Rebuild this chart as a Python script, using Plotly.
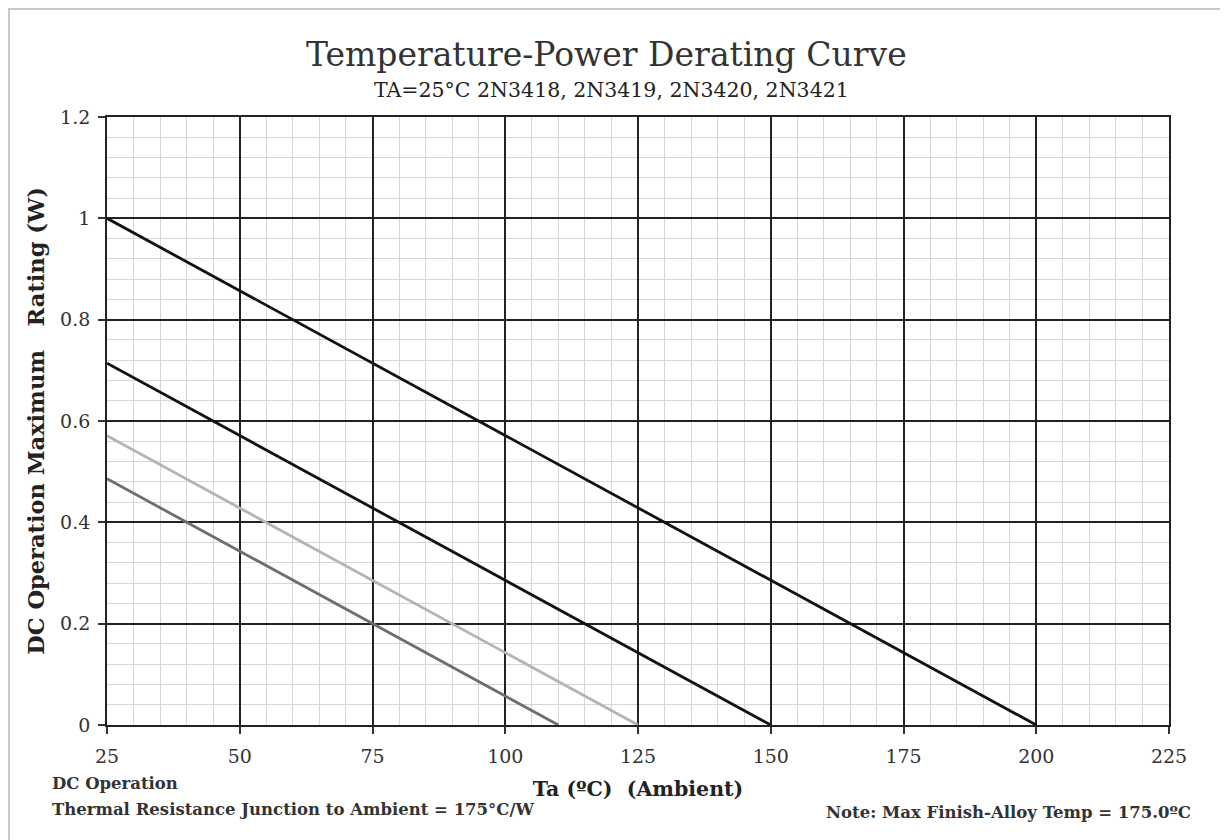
import plotly.graph_objects as go

# Data: ambient temperature (°C) vs max DC power rating (W)
x_ta = [25, 200]
y_p1 = [1.0, 0.0]
x_2 = [25, 150]
y_2 = [0.714, 0.0]
x_3 = [25, 125]
y_3 = [0.571, 0.0]
x_4 = [25, 110]
y_4 = [0.486, 0.0]

x_ticks = [25, 50, 75, 100, 125, 150, 175, 200, 225]
y_ticks = [0, 0.2, 0.4, 0.6, 0.8, 1.0, 1.2]
y_tick_text = ["0", "0.2", "0.4", "0.6", "0.8", "1", "1.2"]

FONT = "DejaVu Serif"

fig = go.Figure()
series = [
    (x_ta, y_p1, "#111111"),
    (x_2, y_2, "#111111"),
    (x_3, y_3, "#b4b4b4"),
    (x_4, y_4, "#6e6e6e"),
]
for xs, ys, col in series:
    fig.add_trace(go.Scatter(x=xs, y=ys, mode="lines",
                             line=dict(color=col, width=2.8),
                             showlegend=False, hoverinfo="skip"))

fig.update_xaxes(
    range=[25, 225], tickvals=x_ticks, ticks="outside", ticklen=7,
    tickcolor="#333", tickwidth=1.5, ticklabelstandoff=6,
    showgrid=True, gridcolor="#222222", gridwidth=1.5,
    minor=dict(dtick=5, showgrid=True, gridcolor="#d6d6d6", gridwidth=1.3),
    showline=True, linecolor="#222", linewidth=1.8, mirror=True,
    zeroline=False,
    tickfont=dict(family=FONT, size=19, color="#333"),
    title=dict(text="<b>Ta (ºC)  (Ambient)</b>", standoff=16,
               font=dict(family=FONT, size=20.5, color="#222")),
)
fig.update_yaxes(
    range=[0, 1.2], tickvals=y_ticks, ticktext=y_tick_text,
    ticks="outside", ticklen=7, tickcolor="#333", tickwidth=1.5,
    ticklabelstandoff=4,
    showgrid=True, gridcolor="#222222", gridwidth=1.5,
    minor=dict(dtick=0.04, showgrid=True, gridcolor="#d6d6d6", gridwidth=1.3),
    showline=True, linecolor="#222", linewidth=1.8, mirror=True,
    zeroline=False,
    tickfont=dict(family=FONT, size=19, color="#333"),
    title=dict(text="<b>DC Operation Maximum   Rating (W)</b>", standoff=9,
               font=dict(family=FONT, size=22.5, color="#222")),
)

annotations = [
    dict(text="Temperature-Power Derating Curve", x=0.4699, y=1.102, xref="paper",
         yref="paper", xanchor="center", yanchor="middle", showarrow=False,
         font=dict(family=FONT, size=33, color="#333")),
    dict(text="TA=25°C 2N3418, 2N3419, 2N3420, 2N3421", x=0.4746, y=1.0444,
         xref="paper", yref="paper", xanchor="center", yanchor="middle",
         showarrow=False, font=dict(family=FONT, size=20.5, color="#222")),
    dict(text="<b>DC Operation</b>", x=-0.0537, y=-0.0954, xref="paper",
         yref="paper", xanchor="left", yanchor="middle", showarrow=False,
         font=dict(family=FONT, size=16.5, color="#333")),
    dict(text="<b>Thermal Resistance Junction to Ambient = 175°C/W</b>",
         x=-0.0537, y=-0.1398, xref="paper", yref="paper", xanchor="left",
         yanchor="middle", showarrow=False,
         font=dict(family=FONT, size=16.5, color="#333")),
    dict(text="<b>Note: Max Finish-Alloy Temp = 175.0ºC</b>", x=1.0226,
         y=-0.1431, xref="paper", yref="paper", xanchor="right",
         yanchor="middle", showarrow=False,
         font=dict(family=FONT, size=16.5, color="#333")),
]

fig.update_layout(
    width=1228, height=840,
    margin=dict(l=99, r=67, t=109, b=123),
    paper_bgcolor="white", plot_bgcolor="white",
    annotations=annotations,
    shapes=[dict(type="rect", xref="paper", yref="paper",
                 x0=-0.0923, x1=1.2, y0=-0.3, y1=1.1776,
                 line=dict(color="#c8c8c8", width=2), layer="below")],
)

fig.write_html("out.html")
